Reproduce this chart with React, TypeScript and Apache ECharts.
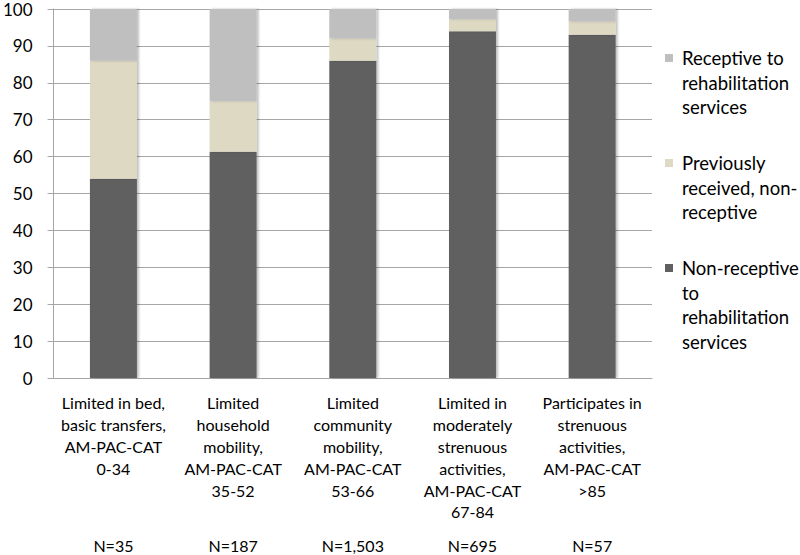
import React, { useEffect, useRef } from "react";
import * as echarts from "echarts";

const categories = [
  "Limited in bed,\nbasic transfers,\nAM-PAC-CAT\n0-34",
  "Limited\nhousehold\nmobility,\nAM-PAC-CAT\n35-52",
  "Limited\ncommunity\nmobility,\nAM-PAC-CAT\n53-66",
  "Limited in\nmoderately\nstrenuous\nactivities,\nAM-PAC-CAT\n67-84",
  "Participates in\nstrenuous\nactivities,\nAM-PAC-CAT\n>85",
];
const sampleSizes = ["N=35", "N=187", "N=1,503", "N=695", "N=57"];
const nonReceptive = [54, 61.3, 86, 94, 93];
const previouslyReceived = [32, 13.7, 6, 3.2, 3.6];
const receptive = [14, 25, 8, 2.8, 3.4];
const yTicks = [0, 10, 20, 30, 40, 50, 60, 70, 80, 90, 100];

const seriesNames = [
  "Non-receptive to rehabilitation services",
  "Previously received, non-receptive",
  "Receptive to rehabilitation services",
];
const legendLines = [
  ["Receptive to", "rehabilitation", "services"],
  ["Previously", "received, non-", "receptive"],
  ["Non-receptive", "to", "rehabilitation", "services"],
];
const colors = ["#606060", "#ddd9c3", "#bfbfbf"];

const FONT = "Lato";

export default function App() {
  const ref = useRef<HTMLDivElement>(null);
  useEffect(() => {
    if (!ref.current) return;
    const chart = echarts.init(ref.current, undefined, { renderer: "svg" });
    const dataSets = [nonReceptive, previouslyReceived, receptive];
    const legendColors = [colors[2], colors[1], colors[0]];
    const legendTops = [58, 163, 268];
    const graphic: any[] = [];
    legendLines.forEach((lines, i) => {
      graphic.push({
        type: "rect",
        left: 665,
        top: legendTops[i] - 4,
        shape: { width: 8, height: 8 },
        style: { fill: legendColors[i] },
      });
      graphic.push({
        type: "text",
        left: 682,
        top: legendTops[i] - 12,
        style: {
          text: lines.join("\n"),
          font: `18.5px ${FONT}`,
          lineHeight: 24.5,
          fill: "#000",
        },
      });
    });
    chart.setOption({
      animation: false,
      grid: { left: 50, top: 9, right: 148, bottom: 177 },
      xAxis: [
        {
          type: "category",
          data: categories,
          axisLine: { lineStyle: { color: "#a6a6a6" } },
          axisTick: { length: 5, lineStyle: { color: "#a6a6a6" } },
          axisLabel: {
            interval: 0,
            margin: 14,
            fontFamily: FONT,
            fontSize: 16,
            lineHeight: 21.8,
            color: "#000",
          },
        },
        {
          type: "category",
          data: sampleSizes,
          position: "bottom",
          axisLine: { show: false },
          axisTick: { show: false },
          axisLabel: {
            interval: 0,
            margin: 157,
            fontFamily: FONT,
            fontSize: 16,
            lineHeight: 20,
            color: "#000",
          },
        },
      ],
      yAxis: {
        type: "value",
        min: 0,
        max: 100,
        interval: 10,
        axisLine: { show: true, lineStyle: { color: "#a6a6a6" } },
        axisTick: { show: true, length: 6, lineStyle: { color: "#a6a6a6" } },
        splitLine: { lineStyle: { color: "#a6a6a6" } },
        axisLabel: {
          margin: 21,
          fontFamily: FONT,
          fontSize: 17,
          lineHeight: 17,
          color: "#000",
          formatter: (v: number) => (yTicks.includes(v) ? String(v) : ""),
        },
      },
      series: seriesNames.map((name, i) => ({
        name,
        type: "bar",
        stack: "total",
        xAxisIndex: 0,
        barWidth: 47,
        data: dataSets[i],
        itemStyle: {
          color: colors[i],
          shadowColor: "rgba(0,0,0,0.25)",
          shadowBlur: 2,
          shadowOffsetX: 2,
        },
      })),
      graphic,
    });
    return () => chart.dispose();
  }, []);
  return (
    <div
      ref={ref}
      style={{ position: "absolute", left: 0, top: 0, width: 800, height: 555 }}
    />
  );
}
